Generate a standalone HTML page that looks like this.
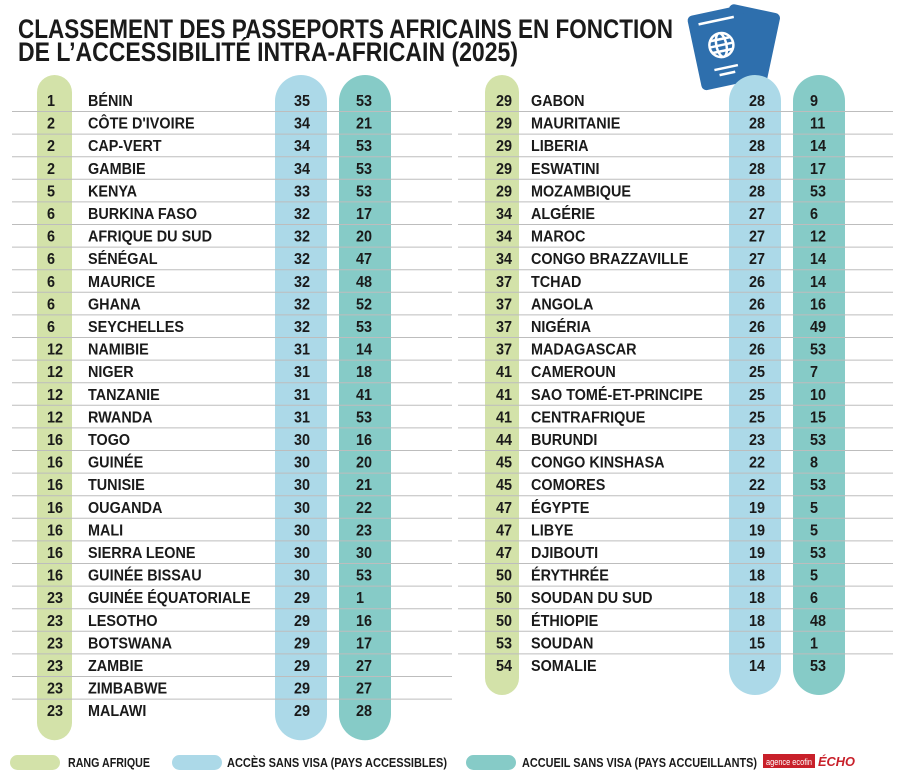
<!DOCTYPE html>
<html><head><meta charset="utf-8"><style>
html,body{margin:0;padding:0;background:#fff;}
svg{display:block;font-family:"Liberation Sans",sans-serif;font-weight:bold;}
</style></head><body>
<svg id="chart" width="900" height="778" viewBox="0 0 900 778" xmlns="http://www.w3.org/2000/svg">
<text x="18" y="38" font-size="27" fill="#1a1a1a" textLength="655" lengthAdjust="spacingAndGlyphs">CLASSEMENT DES PASSEPORTS AFRICAINS EN FONCTION</text>
<text x="18" y="61" font-size="27" fill="#1a1a1a" textLength="500" lengthAdjust="spacingAndGlyphs">DE L’ACCESSIBILITÉ INTRA-AFRICAIN (2025)</text>
<g>
<rect x="722" y="8" width="52" height="72" rx="5" fill="#2e6fad" transform="rotate(12 748 44)"/>
<rect x="694" y="10" width="56" height="76" rx="5" fill="#2e6fad" transform="rotate(-12 722 48)"/>
<g transform="rotate(-12 722 48)" fill="none" stroke="#fff" stroke-width="2.5">
<line x1="704" y1="20" x2="740" y2="20"/>
<circle cx="722" cy="45" r="12"/>
<ellipse cx="722" cy="45" rx="5" ry="12"/>
<line x1="710" y1="45" x2="734" y2="45"/>
<line x1="712" y1="39" x2="732" y2="39"/><line x1="712" y1="51" x2="732" y2="51"/>
<line x1="710" y1="68" x2="734" y2="68"/><line x1="714" y1="74" x2="730" y2="74"/>
</g></g>
<g id="pills"></g>
<g id="lines"></g>
<g id="rows"></g>
<g>
<rect x="10" y="755" width="50" height="15" rx="7.5" fill="#d3e2a9"/>
<text x="68" y="767" font-size="13" fill="#1a1a1a" textLength="82" lengthAdjust="spacingAndGlyphs">RANG AFRIQUE</text>
<rect x="172" y="755" width="50" height="15" rx="7.5" fill="#acd9e8"/>
<text x="227" y="767" font-size="13" fill="#1a1a1a" textLength="220" lengthAdjust="spacingAndGlyphs">ACCÈS SANS VISA (PAYS ACCESSIBLES)</text>
<rect x="466" y="755" width="50" height="15" rx="7.5" fill="#86cbc7"/>
<text x="522" y="767" font-size="13" fill="#1a1a1a" textLength="235" lengthAdjust="spacingAndGlyphs">ACCUEIL SANS VISA (PAYS ACCUEILLANTS)</text>
<rect x="763" y="754" width="52" height="14" fill="#c8202a"/>
<text x="789" y="765" font-size="9" fill="#fff" text-anchor="middle" font-weight="normal" textLength="46" lengthAdjust="spacingAndGlyphs">agence ecofin</text>
<text x="818" y="766" font-size="13" fill="#c8202a" font-style="italic" textLength="37" lengthAdjust="spacingAndGlyphs">ÉCHO</text>
</g>
</svg>
<script>
const leftRanks=[1,2,2,2,5,6,6,6,6,6,6,12,12,12,12,16,16,16,16,16,16,16,23,23,23,23,23,23];
const leftNames=["BÉNIN","CÔTE D'IVOIRE","CAP-VERT","GAMBIE","KENYA","BURKINA FASO","AFRIQUE DU SUD","SÉNÉGAL","MAURICE","GHANA","SEYCHELLES","NAMIBIE","NIGER","TANZANIE","RWANDA","TOGO","GUINÉE","TUNISIE","OUGANDA","MALI","SIERRA LEONE","GUINÉE BISSAU","GUINÉE ÉQUATORIALE","LESOTHO","BOTSWANA","ZAMBIE","ZIMBABWE","MALAWI"];
const leftAccess=[35,34,34,34,33,32,32,32,32,32,32,31,31,31,31,30,30,30,30,30,30,30,29,29,29,29,29,29];
const leftWelcome=[53,21,53,53,53,17,20,47,48,52,53,14,18,41,53,16,20,21,22,23,30,53,1,16,17,27,27,28];
const rightRanks=[29,29,29,29,29,34,34,34,37,37,37,37,41,41,41,44,45,45,47,47,47,50,50,50,53,54];
const rightNames=["GABON","MAURITANIE","LIBERIA","ESWATINI","MOZAMBIQUE","ALGÉRIE","MAROC","CONGO BRAZZAVILLE","TCHAD","ANGOLA","NIGÉRIA","MADAGASCAR","CAMEROUN","SAO TOMÉ-ET-PRINCIPE","CENTRAFRIQUE","BURUNDI","CONGO KINSHASA","COMORES","ÉGYPTE","LIBYE","DJIBOUTI","ÉRYTHRÉE","SOUDAN DU SUD","ÉTHIOPIE","SOUDAN","SOMALIE"];
const rightAccess=[28,28,28,28,28,27,27,27,26,26,26,26,25,25,25,23,22,22,19,19,19,18,18,18,15,14];
const rightWelcome=[9,11,14,17,53,6,12,14,14,16,49,53,7,10,15,53,8,53,5,5,53,5,6,48,1,53];

const NS="http://www.w3.org/2000/svg";
const y0=100, dy=22.6;
const rowY=i=>y0+i*dy;
function mk(tag,attrs,parent){const e=document.createElementNS(NS,tag);for(const k in attrs)e.setAttribute(k,attrs[k]);parent.appendChild(e);return e;}
const pills=document.getElementById('pills'),lines=document.getElementById('lines'),rows=document.getElementById('rows');
function pill(x,w,n,color,name){
  const top=75, bottom=rowY(n-1)+30;
  const r=mk('rect',{x:x,y:top,width:w,height:bottom-top,rx:w/2,fill:color},pills);
  
  
}
pill(37,35,leftNames.length,'#d3e2a9','rank-column-left');
pill(275,52,leftNames.length,'#acd9e8','access-column-left');
pill(339,52,leftNames.length,'#86cbc7','welcome-column-left');
pill(485,34,rightNames.length,'#d3e2a9','rank-column-right');
pill(729,52,rightNames.length,'#acd9e8','access-column-right');
pill(793,52,rightNames.length,'#86cbc7','welcome-column-right');
function txt(x,y,s,anchor,name){
  const t=mk('text',{x:x,y:y,'font-size':16,fill:'#1a1a1a','text-anchor':anchor,transform:`translate(${x} ${y}) scale(0.9 1) translate(${-x} ${-y})`},rows);
  t.textContent=s;
  
  
}
function side(ranks,names,acc,wel,rankX,rankAnchor,nameX,accX,accAnchor,welX,lineX1,lineX2,pre){
  for(let i=0;i<names.length;i++){
    const y=rowY(i)+6;
    txt(rankX,y,String(ranks[i]),rankAnchor,pre+'rank-'+i);
    txt(nameX,y,names[i],'start',pre+'country-'+i);
    txt(accX,y,String(acc[i]),accAnchor,pre+'access-'+i);
    txt(welX,y,String(wel[i]),'start',pre+'welcome-'+i);
    if(i<names.length-1){
      const ly=rowY(i)+11.5;
      const l=mk('line',{x1:lineX1,x2:lineX2,y1:ly,y2:ly,stroke:'#bdbdbd','stroke-width':1},lines);
      
      
    }
  }
}
side(leftRanks,leftNames,leftAccess,leftWelcome,47,'start',88,310,'end',356,12,452,'left-');
side(rightRanks,rightNames,rightAccess,rightWelcome,512,'end',531,765,'end',810,458,893,'right-');
</script>
</body></html>
